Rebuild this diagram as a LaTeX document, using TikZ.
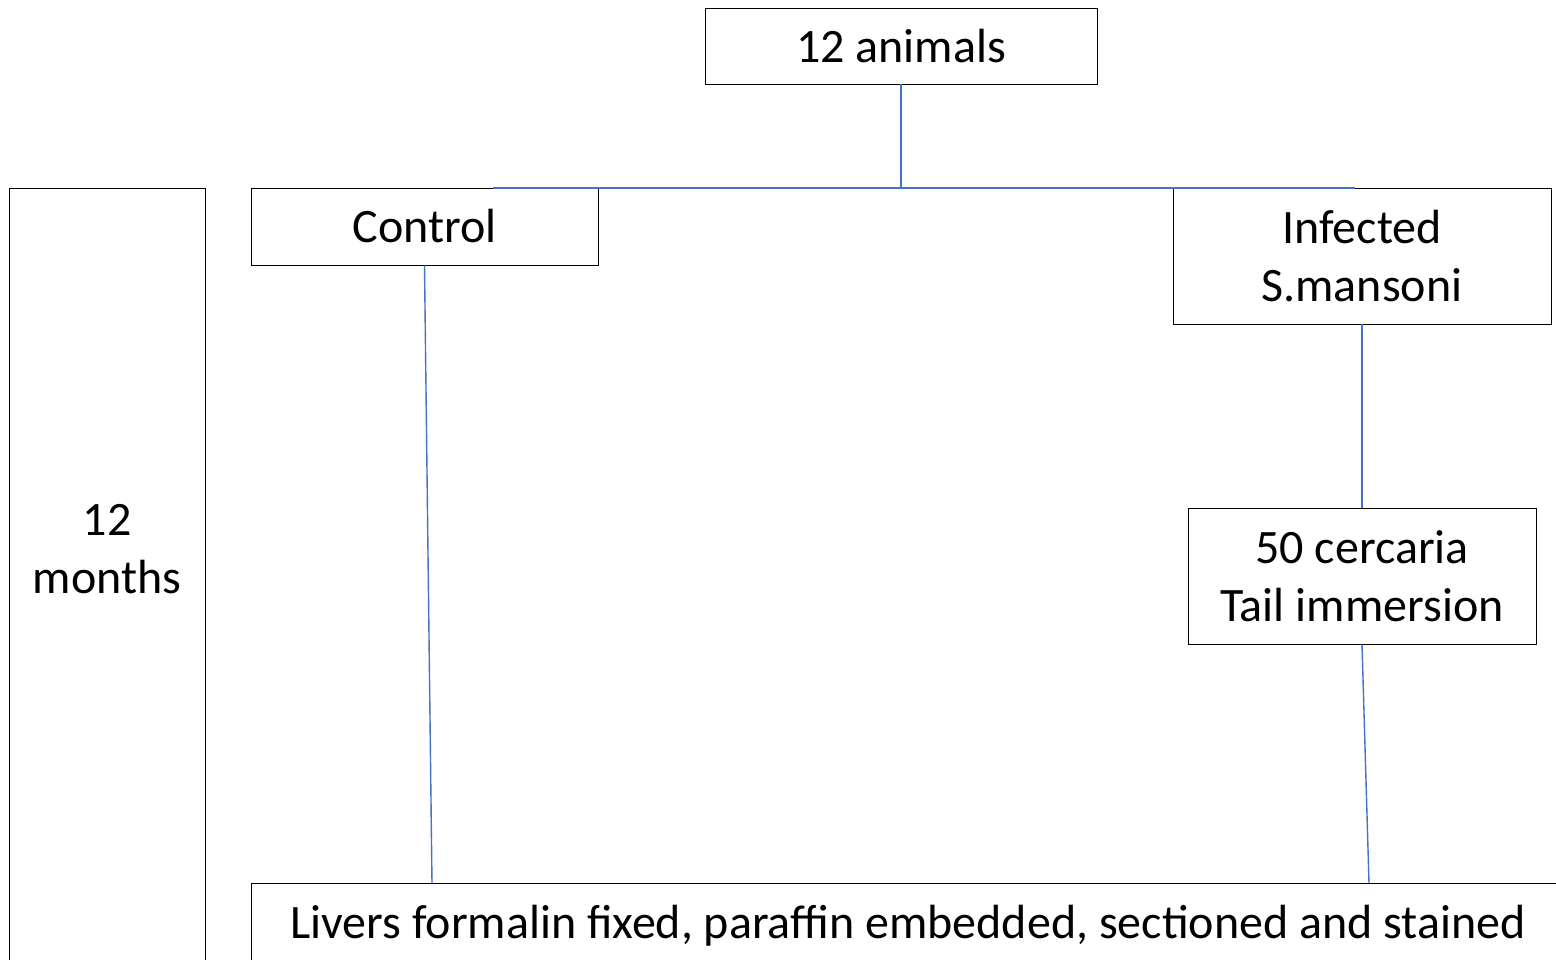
\documentclass[tikz,border=0pt]{standalone}
\usepackage{fontspec}
\setmainfont{Carlito}
\begin{document}
\begin{tikzpicture}[x=1pt,y=-1pt,
  box/.style={draw=black,line width=0.9pt,inner sep=0pt,align=center,font=\fontsize{48}{58}\selectfont},
  txt/.style={inner sep=0pt,align=center,font=\fontsize{48}{58}\selectfont},
  link/.style={color={rgb,255:red,68;green,114;blue,196},line width=1.4pt}]
\useasboundingbox (0,0) rectangle (1556,960);
\node[box,minimum width=392pt,minimum height=76pt] (top) at (901,46) {12 animals};
\node[box,minimum width=196pt,minimum height=800pt] (months) at (107,588) {};
\node[txt] (monthstxt) at (107,549) {12\\months};
\node[box,minimum width=347pt,minimum height=77pt] (ctrl) at (424.5,226.5) {Control};
\node[box,minimum width=378pt,minimum height=136pt] (inf) at (1362,256) {Infected\\S.mansoni};
\node[box,minimum width=348pt,minimum height=136pt] (cerc) at (1362,576) {50 cercaria\\Tail immersion};
\node[box,minimum width=1320pt,minimum height=82pt] (liv) at (911,924) {};
\node[txt,anchor=west] (livtxt) at (290,926) {Livers formalin fixed, paraffin embedded, sectioned and stained};
\coordinate (hl) at (493,188);
\coordinate (hr) at (1355,188);
\coordinate (lb1) at (432,883);
\coordinate (lb2) at (1369,883);
\draw[link] (top.south) -- (top.south |- hl);
\draw[link] (hl) -- (hr);
\draw[link] (ctrl.south) -- (lb1);
\draw[link] (inf.south) -- (cerc.north);
\draw[link] (cerc.south) -- (lb2);
\end{tikzpicture}
\end{document}
